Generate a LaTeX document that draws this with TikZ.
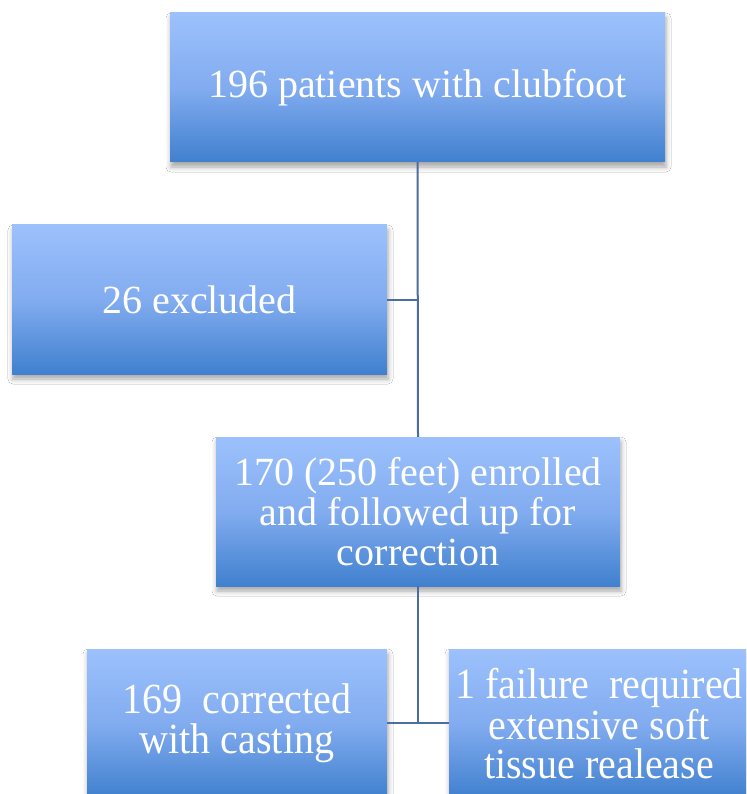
\documentclass[tikz,border=0pt]{standalone}
\usepackage{fontspec}
\setmainfont{Liberation Serif}
\newfontfamily\condfont[FakeStretch=0.93]{Liberation Serif}
\usetikzlibrary{shadows.blur}
\definecolor{boxtop}{RGB}{156,193,252}
\definecolor{boxmid}{RGB}{130,172,240}
\definecolor{boxbot}{RGB}{64,128,206}
\definecolor{linec}{RGB}{74,110,160}
\tikzset{
  box/.style={rectangle, top color=boxtop, bottom color=boxbot, middle color=boxmid,
    text=white, align=center, inner sep=0pt,
    font=\fontsize{40}{40}\selectfont,
    blur shadow={shadow xshift=1pt, shadow yshift=-5pt, shadow blur radius=5pt, shadow opacity=35}},
  conn/.style={draw=linec, line width=2pt}
}
\begin{document}
\begin{tikzpicture}[x=1pt,y=-1pt]
\useasboundingbox (0,0) rectangle (746,794);
\clip (0,0) rectangle (746,794);
\fill[white] (0,0) rectangle (746,794);
\node[box, minimum width=495pt, minimum height=149pt] (b1) at (417.5,87.5) {196 patients with clubfoot};
\node[box, minimum width=375pt, minimum height=149pt] (b2) at (199.5,299.5) {26 excluded};
\node[box, minimum width=404pt, minimum height=149pt] (b3) at (418,511.5) {170 (250 feet) enrolled\\and followed up for\\correction};
\node[box, minimum width=300pt, minimum height=149pt, font=\condfont\fontsize{43}{40}\selectfont] (b4) at (237,723.5) {169\ \ corrected\\with casting};
\node[box, minimum width=300pt, minimum height=149pt, font=\condfont\fontsize{43}{39}\selectfont] (b5) at (599,723.5) {1 failure\ \ required\\extensive soft\\tissue realease};
\coordinate (j) at (418,723);
\draw[conn] (b1.south) -- (b3.north);
\draw[conn] (b2.east) -- (b2.east -| b1.south);
\draw[conn] (b3.south) -- (j);
\draw[conn] (b4.east |- j) -- (b5.west |- j);
\end{tikzpicture}
\end{document}
